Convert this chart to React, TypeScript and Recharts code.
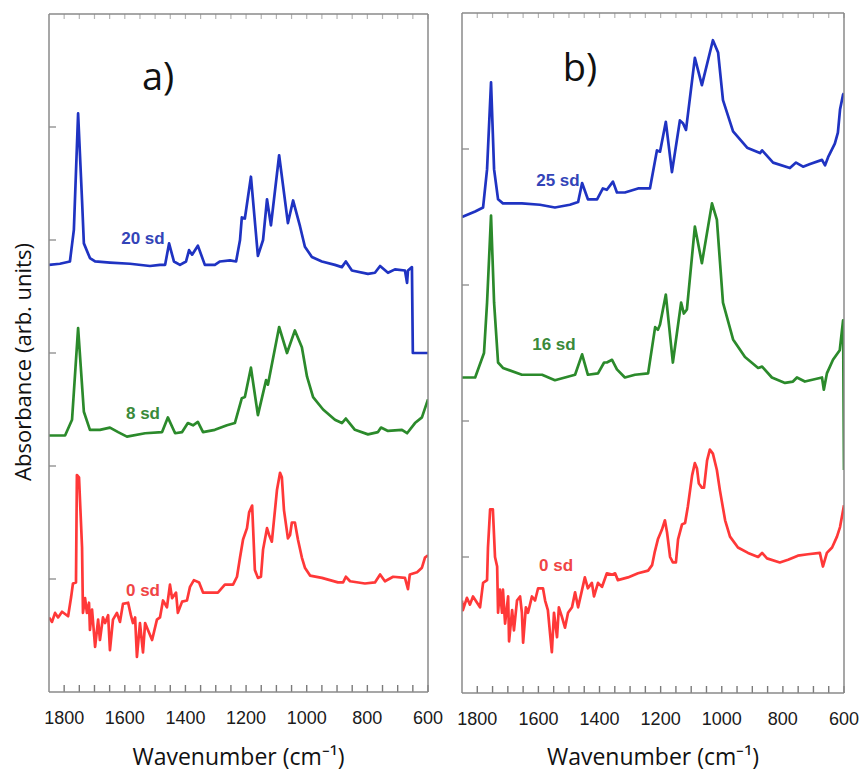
import { LineChart, Line, XAxis, YAxis, ReferenceDot, ReferenceLine } from 'recharts';

// wavenumber ticks (cm-1), labelled every 200
const xTicks = [600, 650, 700, 750, 800, 850, 900, 950, 1000, 1050, 1100, 1150, 1200, 1250, 1300, 1350, 1400, 1450, 1500, 1550, 1600, 1650, 1700, 1750, 1800];
const xTickLabels = [1800, 1600, 1400, 1200, 1000, 800, 600];
const yTicksA = [1, 2, 3, 4, 5];
const yTicksB = [1, 2, 3, 4];

// panel a) 20 sd
const wnA20 = [1850, 1814, 1781, 1768, 1754, 1741, 1735, 1715, 1698, 1649, 1583, 1517, 1484, 1467, 1454, 1438, 1418, 1398, 1388, 1378, 1359, 1336, 1303, 1286, 1253, 1233, 1220, 1214, 1204, 1184, 1161, 1144, 1131, 1118, 1091, 1062, 1045, 1022, 1006, 983, 950, 907, 884, 871, 851, 798, 775, 758, 732, 709, 676, 669, 666, 653, 650, 600];
const absA20 = [3.78, 3.79, 3.81, 4.09, 5.12, 4.35, 3.97, 3.84, 3.81, 3.8, 3.79, 3.77, 3.78, 3.78, 3.97, 3.81, 3.78, 3.81, 3.91, 3.87, 3.95, 3.78, 3.78, 3.81, 3.82, 3.81, 4.0, 4.2, 4.19, 4.56, 3.86, 4.0, 4.36, 4.13, 4.75, 4.15, 4.35, 4.12, 3.94, 3.85, 3.81, 3.78, 3.76, 3.81, 3.73, 3.7, 3.71, 3.77, 3.71, 3.74, 3.73, 3.62, 3.73, 3.76, 3.0, 3.0];

// panel a) 8 sd
const wnA8 = [1850, 1797, 1774, 1754, 1735, 1715, 1682, 1649, 1622, 1593, 1533, 1477, 1458, 1434, 1411, 1392, 1375, 1359, 1342, 1303, 1263, 1237, 1214, 1204, 1184, 1161, 1134, 1128, 1091, 1065, 1039, 1016, 999, 979, 946, 907, 884, 871, 841, 798, 765, 755, 732, 686, 669, 643, 620, 600];
const absA8 = [2.27, 2.27, 2.41, 3.22, 2.48, 2.32, 2.32, 2.34, 2.3, 2.26, 2.29, 2.3, 2.43, 2.29, 2.3, 2.38, 2.36, 2.39, 2.3, 2.32, 2.36, 2.38, 2.6, 2.61, 2.87, 2.45, 2.76, 2.72, 3.23, 3.0, 3.2, 3.05, 2.79, 2.61, 2.5, 2.41, 2.38, 2.42, 2.32, 2.28, 2.3, 2.34, 2.31, 2.32, 2.29, 2.38, 2.43, 2.59];

// panel a) 0 sd
const wnA0 = [1850, 1840, 1830, 1820, 1807, 1787, 1777, 1771, 1761, 1758, 1751, 1741, 1738, 1731, 1725, 1718, 1715, 1708, 1698, 1688, 1682, 1672, 1665, 1655, 1649, 1639, 1626, 1616, 1606, 1589, 1580, 1573, 1566, 1560, 1550, 1540, 1533, 1524, 1510, 1494, 1484, 1474, 1461, 1451, 1444, 1431, 1425, 1411, 1395, 1385, 1372, 1355, 1342, 1312, 1293, 1270, 1243, 1230, 1220, 1210, 1197, 1190, 1180, 1177, 1171, 1161, 1151, 1144, 1131, 1124, 1115, 1108, 1098, 1088, 1082, 1075, 1062, 1055, 1049, 1039, 1029, 1016, 1006, 989, 950, 897, 880, 871, 857, 808, 775, 758, 742, 715, 676, 666, 660, 636, 620, 610, 600];
const absA0 = [0.66, 0.62, 0.7, 0.66, 0.71, 0.67, 0.84, 0.96, 0.97, 1.92, 1.9, 1.28, 0.7, 0.83, 0.7, 0.79, 0.55, 0.73, 0.4, 0.64, 0.46, 0.66, 0.61, 0.68, 0.37, 0.64, 0.7, 0.62, 0.78, 0.79, 0.68, 0.61, 0.66, 0.31, 0.61, 0.35, 0.61, 0.55, 0.46, 0.64, 0.66, 0.81, 0.75, 0.95, 0.83, 0.88, 0.7, 0.8, 0.81, 0.93, 0.99, 0.97, 0.88, 0.88, 0.88, 0.95, 0.95, 1.02, 1.19, 1.35, 1.45, 1.59, 1.65, 1.46, 1.08, 1.01, 1.02, 1.26, 1.45, 1.39, 1.33, 1.52, 1.79, 1.94, 1.9, 1.61, 1.36, 1.39, 1.5, 1.5, 1.35, 1.19, 1.1, 1.03, 1.01, 0.97, 0.97, 1.02, 0.98, 0.96, 0.97, 1.04, 0.98, 1.02, 1.01, 0.91, 1.04, 1.06, 1.1, 1.19, 1.21];

// panel b) 25 sd
const wnB25 = [1850, 1807, 1781, 1768, 1755, 1745, 1732, 1716, 1654, 1595, 1546, 1497, 1470, 1457, 1438, 1408, 1389, 1376, 1356, 1343, 1317, 1274, 1235, 1212, 1202, 1183, 1163, 1137, 1127, 1117, 1088, 1065, 1029, 1012, 996, 963, 917, 875, 868, 832, 777, 757, 734, 711, 672, 662, 652, 630, 620, 613, 603, 600];
const absB25 = [3.5, 3.54, 3.57, 3.85, 4.49, 3.85, 3.63, 3.6, 3.6, 3.59, 3.57, 3.59, 3.61, 3.75, 3.63, 3.63, 3.71, 3.7, 3.76, 3.68, 3.68, 3.71, 3.71, 3.99, 3.98, 4.2, 3.83, 4.21, 4.19, 4.14, 4.67, 4.47, 4.8, 4.71, 4.36, 4.13, 4.01, 3.97, 3.99, 3.9, 3.86, 3.9, 3.87, 3.89, 3.92, 3.88, 3.94, 4.04, 4.12, 4.29, 4.4, 4.41];

// panel b) 16 sd
const wnB16 = [1850, 1807, 1778, 1768, 1755, 1745, 1732, 1716, 1654, 1588, 1546, 1480, 1457, 1438, 1405, 1385, 1376, 1359, 1343, 1317, 1284, 1241, 1218, 1209, 1202, 1183, 1160, 1133, 1124, 1114, 1088, 1065, 1032, 1016, 996, 963, 924, 881, 868, 836, 793, 767, 754, 728, 672, 666, 656, 636, 614, 603, 600];
const absB16 = [2.32, 2.32, 2.5, 2.87, 3.51, 2.87, 2.43, 2.39, 2.34, 2.34, 2.3, 2.34, 2.49, 2.34, 2.35, 2.43, 2.43, 2.45, 2.38, 2.32, 2.34, 2.35, 2.69, 2.67, 2.71, 2.93, 2.43, 2.87, 2.79, 2.82, 3.43, 3.16, 3.6, 3.48, 2.87, 2.6, 2.47, 2.39, 2.4, 2.32, 2.28, 2.29, 2.32, 2.29, 2.32, 2.23, 2.35, 2.45, 2.52, 2.74, 1.64];

// panel b) 0 sd
const wnB0 = [1850, 1847, 1834, 1824, 1814, 1791, 1781, 1768, 1765, 1758, 1749, 1742, 1735, 1732, 1726, 1719, 1716, 1709, 1699, 1696, 1686, 1680, 1670, 1660, 1654, 1650, 1641, 1634, 1621, 1611, 1601, 1585, 1578, 1569, 1562, 1556, 1549, 1539, 1533, 1523, 1513, 1503, 1490, 1480, 1470, 1457, 1448, 1438, 1425, 1418, 1405, 1392, 1376, 1359, 1349, 1340, 1307, 1274, 1241, 1228, 1219, 1209, 1196, 1186, 1179, 1169, 1160, 1150, 1143, 1130, 1120, 1111, 1097, 1088, 1081, 1075, 1065, 1058, 1048, 1039, 1029, 1016, 1006, 989, 973, 947, 914, 881, 868, 852, 810, 783, 751, 718, 679, 669, 656, 639, 623, 613, 600];
const absB0 = [0.68, 0.61, 0.7, 0.65, 0.71, 0.63, 0.81, 0.83, 1.07, 1.35, 1.35, 1.0, 0.93, 0.59, 0.76, 0.59, 0.76, 0.51, 0.71, 0.38, 0.61, 0.46, 0.68, 0.71, 0.59, 0.37, 0.63, 0.59, 0.71, 0.68, 0.77, 0.77, 0.68, 0.61, 0.44, 0.3, 0.59, 0.41, 0.63, 0.56, 0.48, 0.59, 0.63, 0.74, 0.63, 0.76, 0.85, 0.77, 0.81, 0.71, 0.81, 0.78, 0.88, 0.87, 0.88, 0.83, 0.85, 0.88, 0.9, 0.94, 1.04, 1.13, 1.2, 1.27, 1.18, 1.0, 0.96, 0.96, 1.13, 1.24, 1.25, 1.37, 1.6, 1.69, 1.65, 1.54, 1.51, 1.51, 1.71, 1.79, 1.76, 1.64, 1.49, 1.27, 1.15, 1.07, 1.03, 1.0, 1.03, 0.99, 0.96, 0.98, 1.01, 1.02, 1.03, 0.93, 1.03, 1.07, 1.15, 1.22, 1.38];

// text annotations (wavenumber, absorbance)
const notesA = [
  { text: 'a)', x: 1490, y: 5.45, color: '#111', size: 38, weight: 400 },
  { text: '20 sd', x: 1540, y: 4.02, color: '#3344b8', size: 17, weight: 700 },
  { text: '8 sd', x: 1540, y: 2.47, color: '#3a8a3a', size: 17, weight: 700 },
  { text: '0 sd', x: 1540, y: 0.9, color: '#f04545', size: 17, weight: 700 },
];
const notesB = [
  { text: 'b)', x: 1464, y: 4.6, color: '#111', size: 38, weight: 400 },
  { text: '25 sd', x: 1536, y: 3.77, color: '#3344b8', size: 17, weight: 700 },
  { text: '16 sd', x: 1549, y: 2.57, color: '#3a8a3a', size: 17, weight: 700 },
  { text: '0 sd', x: 1542, y: 0.94, color: '#f04545', size: 17, weight: 700 },
];

const BLUE = '#1f33c2';
const GREEN = '#2b8a2b';
const RED = '#ff3838';
const FRAME = '#8a8a8a';

const toPts = (wn: number[], ab: number[]) => wn.map((x, i) => ({ x, y: ab[i] }));

// bottom labels drawn by a custom tick
const BottomLabel = (props: any) => {
  const { x, y, payload } = props;
  const v = payload.value as number;
  if (!xTickLabels.includes(v)) return <g />;
  return (
    <text x={x} y={y + 32} textAnchor="middle" fill="#1a1a1a" fontSize={18} fontFamily='"Liberation Sans", Arial, sans-serif'>
      {v}
    </text>
  );
};
const LeftTick = (props: any) => (
  <line x1={props.x} x2={props.x + 7} y1={props.y} y2={props.y} stroke={FRAME} strokeWidth={1.3} />
);
const RightTick = (props: any) => (
  <line x1={props.x} x2={props.x - 7} y1={props.y} y2={props.y} stroke={FRAME} strokeWidth={1.3} />
);

interface Series {
  pts: { x: number; y: number }[];
  color: string;
}

interface PanelProps {
  left: number;
  width: number;
  margin: { top: number; right: number; bottom: number; left: number };
  axisHeight: number;
  plotHeight: number;
  yMax: number;
  yTicks: number[];
  series: Series[];
  notes: typeof notesA;
}

function Panel({ left, width, margin, axisHeight, plotHeight, yMax, yTicks, series, notes }: PanelProps) {
  const frame = { stroke: FRAME, strokeWidth: 1.5 };
  // tick mark lengths, converted from pixels to absorbance units
  const bottomLen = (7 * yMax) / plotHeight;
  const topLen = (5 * yMax) / plotHeight;
  return (
    <div style={{ position: 'absolute', left, top: 0 }}>
      <LineChart width={width} height={772} margin={margin}>
        <XAxis
          xAxisId="b"
          dataKey="x"
          type="number"
          domain={[600, 1850]}
          reversed
          allowDataOverflow
          ticks={xTicks}
          interval={0}
          tickSize={0}
          tickMargin={0}
          height={axisHeight}
          axisLine={frame}
          tickLine={false}
          tick={BottomLabel}
          label={{
            value: 'Wavenumber (cm⁻¹)',
            position: 'insideBottom',
            offset: 7,
            fill: '#111',
            fontSize: 23,
            fontFamily: '"Open Sans", sans-serif',
          }}
        />
        <XAxis
          xAxisId="t"
          orientation="top"
          dataKey="x"
          type="number"
          domain={[600, 1850]}
          reversed
          allowDataOverflow
          ticks={xTicks}
          tick={false}
          tickLine={false}
          height={1}
          axisLine={frame}
        />
        <YAxis
          yAxisId="l"
          type="number"
          domain={[0, yMax]}
          ticks={yTicks}
          interval={0}
          width={1}
          tickSize={0}
          tickMargin={0}
          axisLine={frame}
          tickLine={false}
          tick={LeftTick}
        />
        <YAxis
          yAxisId="r"
          orientation="right"
          type="number"
          domain={[0, yMax]}
          ticks={yTicks}
          interval={0}
          width={1}
          tickSize={0}
          tickMargin={0}
          axisLine={frame}
          tickLine={false}
          tick={RightTick}
        />
        {xTicks.map((v) => (
          <ReferenceLine
            key={`b${v}`}
            xAxisId="b"
            yAxisId="l"
            segment={[
              { x: v, y: 0 },
              { x: v, y: bottomLen },
            ]}
            stroke="#7a7a7a"
            strokeWidth={1.4}
            ifOverflow="visible"
          />
        ))}
        {xTicks.map((v) => (
          <ReferenceLine
            key={`t${v}`}
            xAxisId="b"
            yAxisId="l"
            segment={[
              { x: v, y: yMax },
              { x: v, y: yMax - topLen },
            ]}
            stroke="#b4b4b4"
            strokeWidth={1.2}
            ifOverflow="visible"
          />
        ))}
        {series.map((s, i) => (
          <Line
            key={i}
            data={s.pts}
            dataKey="y"
            xAxisId="b"
            yAxisId="l"
            type="linear"
            stroke={s.color}
            strokeWidth={2.7}
            strokeLinejoin="round"
            dot={false}
            activeDot={false}
            isAnimationActive={false}
          />
        ))}
        {notes.map((n) => (
          <ReferenceDot
            key={n.text}
            xAxisId="b"
            yAxisId="l"
            x={n.x}
            y={n.y}
            r={0}
            fill="none"
            stroke="none"
            label={{
              value: n.text,
              position: 'center',
              fill: n.color,
              fontSize: n.size,
              fontWeight: n.weight,
              fontFamily: n.size > 20 ? '"Open Sans", sans-serif' : '"Liberation Sans", Arial, sans-serif',
            }}
          />
        ))}
      </LineChart>
    </div>
  );
}

export default function App() {
  return (
    <div style={{ position: 'absolute', left: 0, top: 0, width: 862, height: 772, background: '#fff', overflow: 'hidden' }}>
      <Panel
        left={0}
        width={455}
        margin={{ top: 13, right: 26, bottom: 0, left: 48 }}
        axisHeight={80}
        plotHeight={678}
        yMax={6}
        yTicks={yTicksA}
        series={[
          { pts: toPts(wnA20, absA20), color: BLUE },
          { pts: toPts(wnA8, absA8), color: GREEN },
          { pts: toPts(wnA0, absA0), color: RED },
        ]}
        notes={notesA}
      />
      <Panel
        left={440}
        width={422}
        margin={{ top: 12, right: 17, bottom: 0, left: 21 }}
        axisHeight={79}
        plotHeight={680}
        yMax={5}
        yTicks={yTicksB}
        series={[
          { pts: toPts(wnB25, absB25), color: BLUE },
          { pts: toPts(wnB16, absB16), color: GREEN },
          { pts: toPts(wnB0, absB0), color: RED },
        ]}
        notes={notesB}
      />
      <div
        style={{
          position: 'absolute',
          left: 22,
          top: 362,
          transform: 'translate(-50%, -50%) rotate(-90deg)',
          whiteSpace: 'nowrap',
          fontFamily: '"Open Sans", sans-serif',
          fontSize: 22,
          color: '#111',
        }}
      >
        Absorbance (arb. units)
      </div>
    </div>
  );
}
